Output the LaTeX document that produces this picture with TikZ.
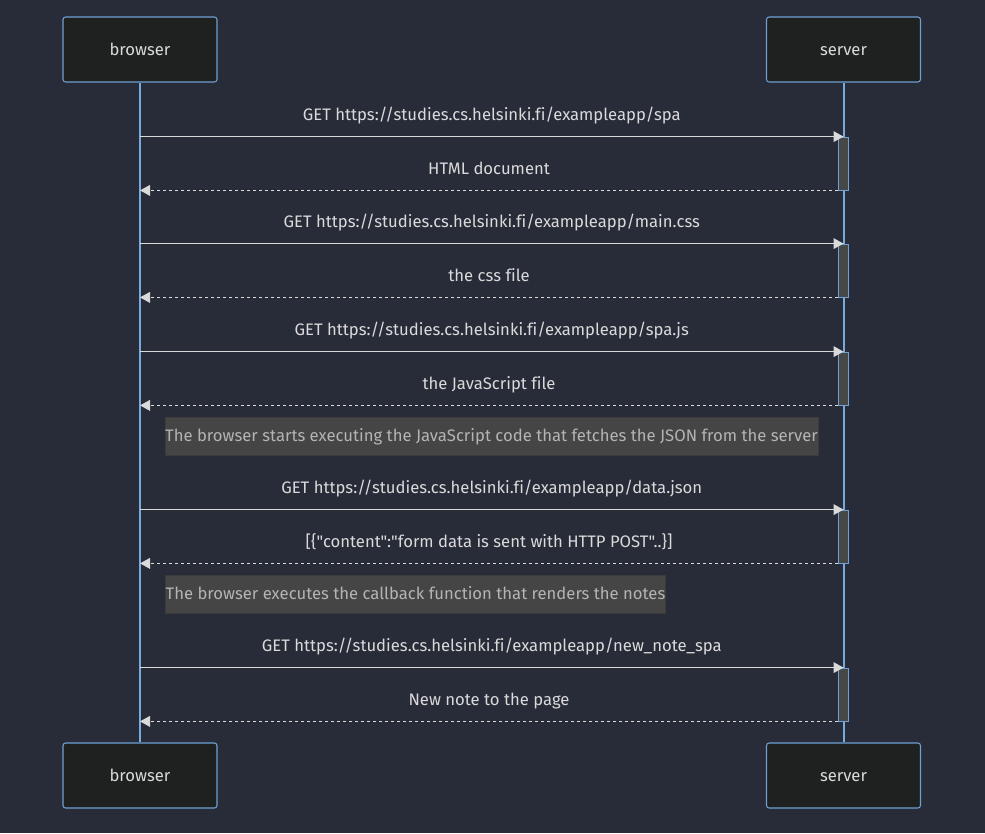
\documentclass[tikz,border=0pt]{standalone}
\usepackage{fontspec}
\newfontfamily\diagfont{Fira Sans}[Ligatures=NoCommon]
\usetikzlibrary{arrows.meta}
\definecolor{bgcol}{RGB}{40,44,56}
\definecolor{actorfill}{RGB}{31,32,32}
\definecolor{actorline}{RGB}{110,160,210}
\definecolor{lifecol}{RGB}{120,170,222}
\definecolor{msgcol}{RGB}{218,218,218}
\definecolor{actfill}{RGB}{70,72,72}
\definecolor{notefill}{RGB}{68,69,68}
\definecolor{noteline}{RGB}{58,59,58}
\definecolor{notetext}{RGB}{180,180,180}
\tikzset{
  actor/.style={draw=actorline, fill=actorfill, rounded corners=2pt, line width=0.8pt,
    minimum width=115.5pt, minimum height=48.75pt, text=msgcol,
    text height=2.6ex, text depth=.4ex, font=\diagfont\fontsize{12.5}{15}\selectfont},
  life/.style={draw=lifecol, line width=1.5pt},
  actbar/.style={draw=actorline, fill=actfill, line width=0.6pt, inner sep=0pt,
    minimum width=7.5pt, minimum height=39.75pt},
  req/.style={draw=msgcol, line width=1.1pt, -{Triangle[length=7.5pt,width=8pt]}},
  resp/.style={req, dash pattern=on 2.25pt off 2.25pt},
  lbl/.style={midway, yshift=14.75pt, text=msgcol, text height=1.6ex, text depth=.4ex,
    font=\diagfont\fontsize{12.5}{15}\selectfont},
  note/.style={draw=noteline, fill=notefill, text=notetext, minimum height=28.5pt,
    inner sep=0pt, text height=2.45ex, text depth=.4ex,
    font=\diagfont\fontsize{12.5}{15}\selectfont}
}
\begin{document}
\begin{tikzpicture}[x=0.75pt,y=-0.75pt]
  \fill[bgcol] (0,0) rectangle (985,833);
  \useasboundingbox (0,0) rectangle (985,833);
  % participants
  \node[actor] (browserTop) at (140,49.5) {browser};
  \node[actor] (serverTop) at (843.5,49.5) {server};
  \node[actor] (browserBot) at (140,775.5) {browser};
  \node[actor] (serverBot) at (843.5,775.5) {server};
  \draw[life] (browserTop.south) -- (browserBot.north);
  \draw[life] (serverTop.south) -- (serverBot.north);
  % activations
  \node[actbar] (act1) at (843.5,163.5) {};
  \node[actbar] (act2) at (843.5,270.5) {};
  \node[actbar] (act3) at (843.5,378.5) {};
  \node[actbar] (act4) at (843.5,536.5) {};
  \node[actbar] (act5) at (843.5,694.5) {};
  % messages
  \draw[req] (browserTop.south |- act1.north) -- (act1.north)
    node[lbl] {GET https://studies.cs.helsinki.fi/exampleapp/spa};
  \draw[resp] (act1.south west) -- (browserTop.south |- act1.south)
    node[lbl] {HTML document};
  \draw[req] (browserTop.south |- act2.north) -- (act2.north)
    node[lbl] {GET https://studies.cs.helsinki.fi/exampleapp/main.css};
  \draw[resp] (act2.south west) -- (browserTop.south |- act2.south)
    node[lbl] {the css file};
  \draw[req] (browserTop.south |- act3.north) -- (act3.north)
    node[lbl] {GET https://studies.cs.helsinki.fi/exampleapp/spa.js};
  \draw[resp] (act3.south west) -- (browserTop.south |- act3.south)
    node[lbl] {the JavaScript file};
  \node[note, minimum width=488.25pt] (note1) at (491.5,436)
    {The browser starts executing the JavaScript code that fetches the JSON from the server};
  \draw[req] (browserTop.south |- act4.north) -- (act4.north)
    node[lbl] {GET https://studies.cs.helsinki.fi/exampleapp/data.json};
  \draw[resp] (act4.south west) -- (browserTop.south |- act4.south)
    node[lbl] {[\{"content":"form data is sent with HTTP POST"..\}]};
  \node[note, minimum width=372.75pt] (note2) at (415.5,594)
    {The browser executes the callback function that renders the notes};
  \draw[req] (browserTop.south |- act5.north) -- (act5.north)
    node[lbl] {GET https://studies.cs.helsinki.fi/exampleapp/new\_note\_spa};
  \draw[resp] (act5.south west) -- (browserTop.south |- act5.south)
    node[lbl] {New note to the page};
\end{tikzpicture}
\end{document}
